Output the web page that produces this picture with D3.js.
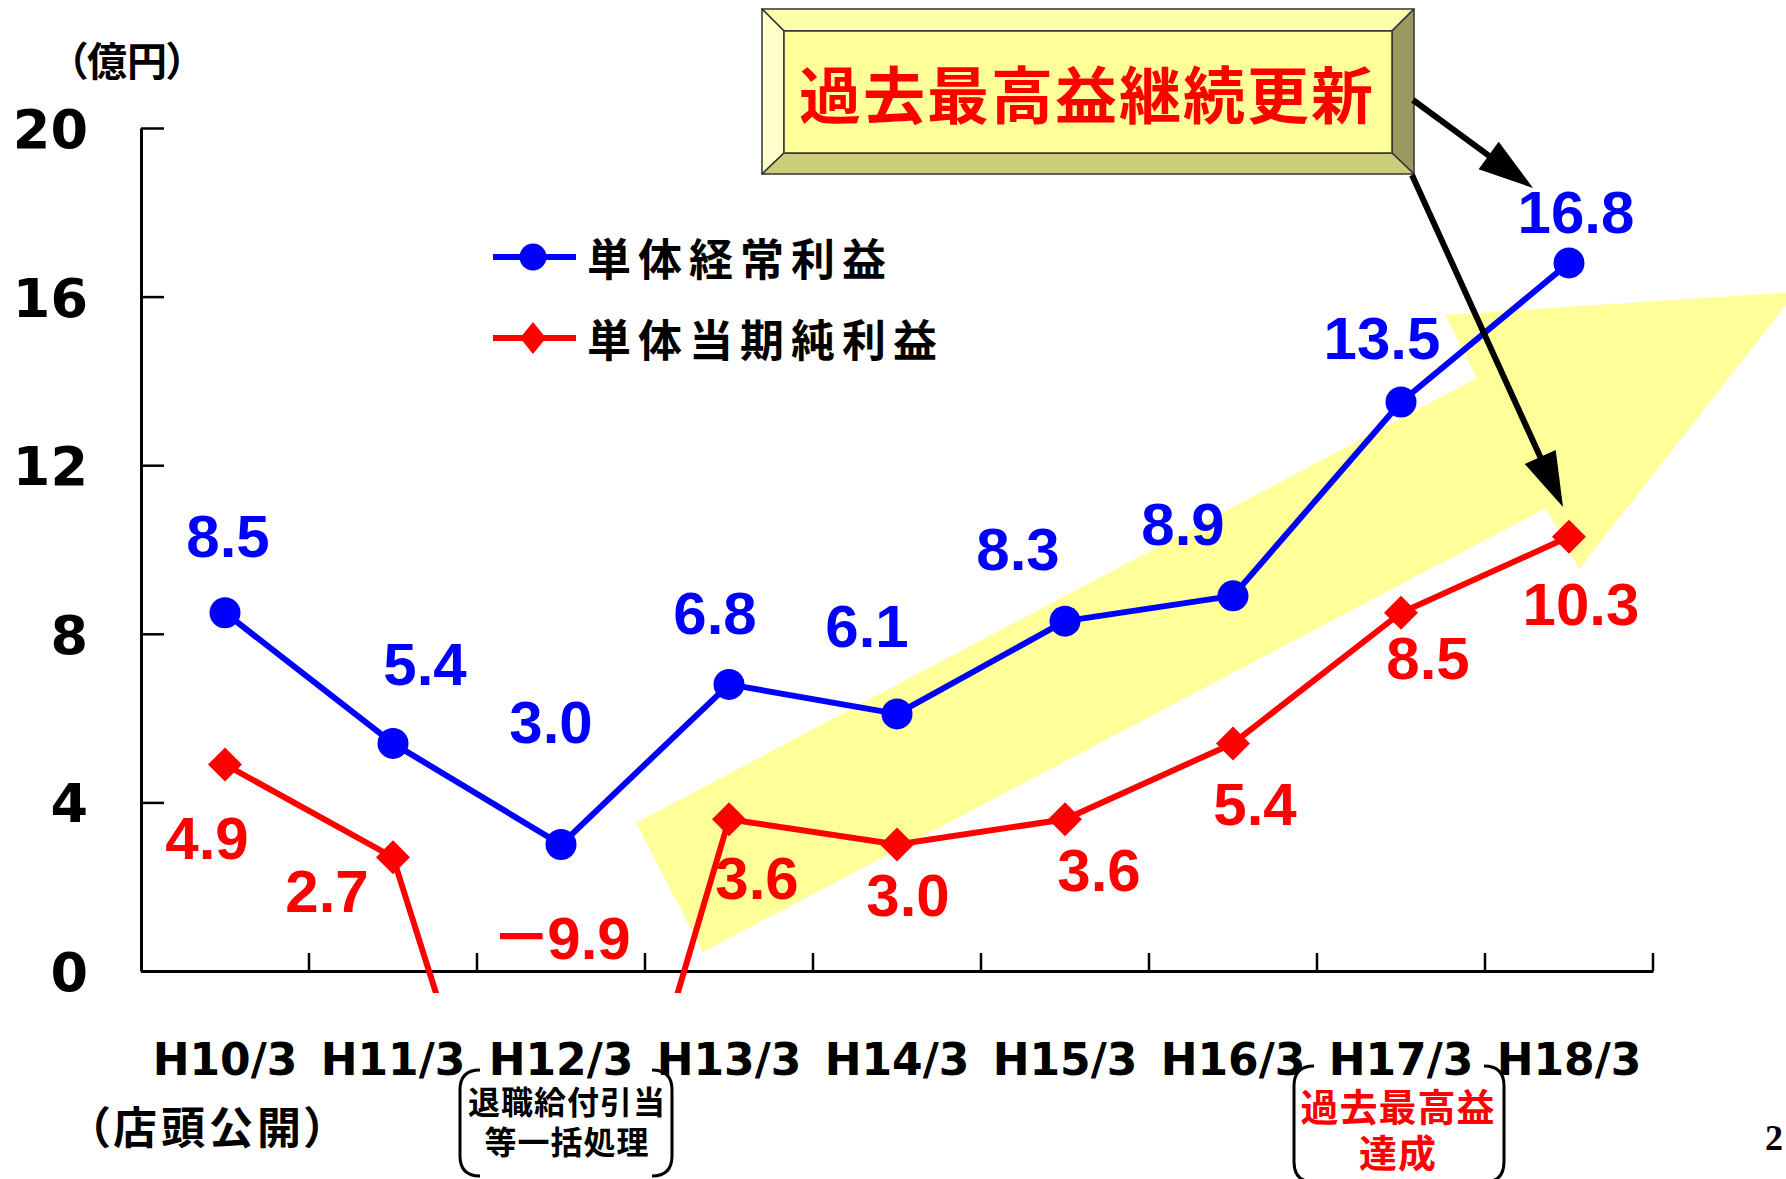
<!DOCTYPE html>
<html>
<head>
<meta charset="utf-8">
<script src="https://cdn.jsdelivr.net/npm/d3@7"></script>
<style>
  html, body { margin: 0; padding: 0; background: #ffffff; }
  svg { display: block; }
</style>
</head>
<body>
<svg id="chart" width="1786" height="1179"></svg>
<script>
// ---- data ----
const categories = ["H10/3", "H11/3", "H12/3", "H13/3", "H14/3", "H15/3", "H16/3", "H17/3", "H18/3"];
const ordinaryProfit = [8.5, 5.4, 3.0, 6.8, 6.1, 8.3, 8.9, 13.5, 16.8];   // 単体経常利益
const netProfit      = [4.9, 2.7, -9.9, 3.6, 3.0, 3.6, 5.4, 8.5, 10.3];   // 単体当期純利益
const yTicks = [0, 4, 8, 12, 16, 20];
const seriesNames = ["単体経常利益", "単体当期純利益"];
const unitText = "（億円）";
const headline = "過去最高益継続更新";
const listingNote = "（店頭公開）";
const retirementNote = ["退職給付引当", "等一括処理"];
const recordNote = ["過去最高益", "達成"];
const pageNo = "2";

// ---- layout ----
const W = 1786, H = 1179;
const plot = { left: 141, right: 1653, top: 128, bottom: 971 };
const BLUE = "#0000ff", RED = "#ff0000";
const JP = "'Noto Sans CJK JP', 'Noto Sans', sans-serif";
const NUM = "'Liberation Sans', Arial, sans-serif";
const AXISFONT = "'DejaVu Sans', Verdana, sans-serif";

const svg = d3.select("#chart");

const x = d3.scaleBand().domain(categories).range([plot.left, plot.right]).padding(0);
const y = d3.scaleLinear().domain([0, 20]).range([plot.bottom, plot.top]);
const cx = c => x(c) + x.bandwidth() / 2;

// ---- background arrow (rising trend) ----
svg.append("polygon")
  .attr("points", [[636, 823], [1477, 378], [1445, 315], [1796, 292], [1579, 569], [1546, 508], [703, 952]]
    .map(p => p.join(",")).join(" "))
  .attr("fill", "#ffff99");

// ---- y axis ----
const yAxis = svg.append("g")
  .attr("transform", `translate(${plot.left},0)`)
  .call(d3.axisLeft(y).tickValues(yTicks).tickSize(-23).tickSizeOuter(0).tickPadding(53).tickFormat(d3.format("d")));
yAxis.select(".domain").attr("stroke", "#000").attr("stroke-width", 3);
yAxis.selectAll(".tick line").attr("stroke", "#000").attr("stroke-width", 2.5);
yAxis.selectAll(".tick text")
  .attr("font-family", AXISFONT).attr("font-weight", "bold").attr("font-size", 54)
  .attr("fill", "#000").attr("dy", "0.36em");

// ---- x axis: baseline, boundary ticks, category labels ----
const xAxis = svg.append("g")
  .attr("transform", `translate(0,${plot.bottom})`)
  .call(d3.axisBottom(x).tickSize(0).tickPadding(88).tickSizeOuter(0));
xAxis.select(".domain").attr("stroke", "#000").attr("stroke-width", 3);
xAxis.selectAll(".tick text")
  .attr("font-family", AXISFONT).attr("font-weight", "bold").attr("font-size", 44)
  .attr("fill", "#000").attr("dy", "0.36em");

const bounds = categories.map(c => x(c)).concat([x(categories[categories.length - 1]) + x.bandwidth()]);
svg.append("g").selectAll("line")
  .data(bounds.slice(1))
  .join("line")
  .attr("x1", d => d).attr("x2", d => d)
  .attr("y1", plot.bottom).attr("y2", plot.bottom - 18)
  .attr("stroke", "#000").attr("stroke-width", 2.5);

// ---- unit label ----
svg.append("text")
  .attr("x", 127).attr("y", 62).attr("dy", "0.36em")
  .attr("text-anchor", "middle")
  .attr("font-family", JP).attr("font-weight", "bold").attr("font-size", 40)
  .style("font-feature-settings", "'palt'")
  .text(unitText);

// ---- lines ----
svg.append("defs").append("clipPath").attr("id", "plotClip")
  .append("rect").attr("x", 0).attr("y", 0).attr("width", W).attr("height", 993);

const line = d3.line().x((d, i) => cx(categories[i])).y(d => y(d));

svg.append("path").datum(netProfit)
  .attr("d", line).attr("fill", "none")
  .attr("stroke", RED).attr("stroke-width", 6).attr("stroke-linejoin", "miter")
  .attr("clip-path", "url(#plotClip)");

svg.append("path").datum(ordinaryProfit)
  .attr("d", line).attr("fill", "none")
  .attr("stroke", BLUE).attr("stroke-width", 6).attr("stroke-linejoin", "round");

// markers
svg.append("g").selectAll("path")
  .data(netProfit.map((v, i) => ({ v, c: categories[i] })).filter(d => d.v >= 0))
  .join("path")
  .attr("d", "M0,-17L17,0L0,17L-17,0Z")
  .attr("transform", d => `translate(${cx(d.c)},${y(d.v)})`)
  .attr("fill", RED);

svg.append("g").selectAll("circle")
  .data(ordinaryProfit.map((v, i) => ({ v, c: categories[i] })))
  .join("circle")
  .attr("cx", d => cx(d.c)).attr("cy", d => y(d.v)).attr("r", 15.5)
  .attr("fill", BLUE);

// ---- value labels ----
const fmt = v => d3.format(".1f")(Math.abs(v));
const blueOffsets = [[3, -77], [32, -80], [-10, -123], [-14, -72], [-30, -88], [-47, -73], [-50, -72], [-19, -65], [7, -51]];
const redOffsets  = [[-18, 73], [-66, 33], [0, 0], [28, 58], [11, 50], [34, 50], [22, 60], [27, 45], [12, 67]];
const LBL = 60;

svg.append("g").selectAll("text")
  .data(ordinaryProfit.map((v, i) => ({ v, c: categories[i], o: blueOffsets[i] })))
  .join("text")
  .attr("x", d => cx(d.c) + d.o[0])
  .attr("y", d => y(d.v) + d.o[1] + LBL * 0.36)
  .attr("text-anchor", "middle")
  .attr("font-family", NUM).attr("font-weight", "bold").attr("font-size", LBL)
  .attr("fill", BLUE)
  .text(d => fmt(d.v));

const redLabels = svg.append("g").selectAll("text")
  .data(netProfit.map((v, i) => ({ v, c: categories[i], o: redOffsets[i] })))
  .join("text")
  .attr("x", d => cx(d.c) + d.o[0])
  .attr("y", d => (d.v < 0 ? y(0) - 34 : y(d.v) + d.o[1]) + LBL * 0.36)
  .attr("text-anchor", "middle")
  .attr("font-family", NUM).attr("font-weight", "bold").attr("font-size", LBL)
  .attr("fill", RED);
redLabels.filter(d => d.v < 0).append("tspan")
  .attr("font-family", JP).attr("font-weight", "bold").attr("letter-spacing", -4)
  .text("－");
redLabels.append("tspan").text(d => fmt(d.v));

// ---- legend ----
const legend = svg.append("g");
const legendRows = [
  { name: seriesNames[0], color: BLUE, y: 257, shape: "circle" },
  { name: seriesNames[1], color: RED, y: 338, shape: "diamond" }
];
legendRows.forEach(r => {
  legend.append("line").attr("x1", 493).attr("x2", 576).attr("y1", r.y).attr("y2", r.y)
    .attr("stroke", r.color).attr("stroke-width", 6);
  if (r.shape === "circle") {
    legend.append("circle").attr("cx", 533).attr("cy", r.y).attr("r", 13.5).attr("fill", r.color);
  } else {
    legend.append("path").attr("d", "M0,-16L13,0L0,16L-13,0Z")
      .attr("transform", `translate(533,${r.y})`).attr("fill", r.color);
  }
  legend.append("text").attr("x", 587).attr("y", r.y + 3).attr("dy", "0.36em")
    .attr("font-family", JP).attr("font-weight", "bold").attr("font-size", 44)
    .attr("letter-spacing", 7).attr("fill", "#000")
    .text(r.name);
});

// ---- headline box (bevelled) ----
const ob = { l: 762, t: 9, r: 1414, b: 174 }, ib = { l: 784, t: 31, r: 1392, b: 153 };
const box = svg.append("g").attr("stroke", "#333").attr("stroke-width", 1.5).attr("stroke-linejoin", "round");
const poly = pts => pts.map(p => p.join(",")).join(" ");
box.append("polygon").attr("points", poly([[ob.l, ob.t], [ob.r, ob.t], [ib.r, ib.t], [ib.l, ib.t]])).attr("fill", "#ffffaa");
box.append("polygon").attr("points", poly([[ob.l, ob.t], [ib.l, ib.t], [ib.l, ib.b], [ob.l, ob.b]])).attr("fill", "#ffffcc");
box.append("polygon").attr("points", poly([[ob.r, ob.t], [ob.r, ob.b], [ib.r, ib.b], [ib.r, ib.t]])).attr("fill", "#999960");
box.append("polygon").attr("points", poly([[ob.l, ob.b], [ib.l, ib.b], [ib.r, ib.b], [ob.r, ob.b]])).attr("fill", "#cccc7a");
box.append("rect").attr("x", ib.l).attr("y", ib.t).attr("width", ib.r - ib.l).attr("height", ib.b - ib.t).attr("fill", "#ffff99");
svg.append("text").attr("x", 1087).attr("y", 97).attr("dy", "0.36em")
  .attr("text-anchor", "middle")
  .attr("font-family", JP).attr("font-weight", "bold").attr("font-size", 62)
  .attr("letter-spacing", 2).attr("fill", RED)
  .text(headline);

// ---- pointer arrows ----
function arrow(x1, y1, x2, y2) {
  const ang = Math.atan2(y2 - y1, x2 - x1), len = 55, half = 17;
  const bx = x2 - len * Math.cos(ang), by = y2 - len * Math.sin(ang);
  svg.append("line").attr("x1", x1).attr("y1", y1).attr("x2", bx + 4 * Math.cos(ang)).attr("y2", by + 4 * Math.sin(ang))
    .attr("stroke", "#000").attr("stroke-width", 6);
  const px = -Math.sin(ang) * half, py = Math.cos(ang) * half;
  svg.append("polygon").attr("points", poly([[x2, y2], [bx + px, by + py], [bx - px, by - py]])).attr("fill", "#000");
}
arrow(1413, 100, 1533, 188);
arrow(1412, 175, 1563, 507);

// ---- notes under the axis ----
svg.append("text").attr("x", 209).attr("y", 1128).attr("dy", "0.36em")
  .attr("text-anchor", "middle")
  .attr("font-family", JP).attr("font-weight", "bold").attr("font-size", 44)
  .style("font-feature-settings", "'palt'").attr("letter-spacing", 4)
  .text(listingNote);

function bracketBox(l, r, t, b, rad) {
  const p = `M${l + rad},${t} Q${l},${t} ${l},${t + rad} L${l},${b - rad} Q${l},${b} ${l + rad},${b}` +
            ` M${r - rad},${t} Q${r},${t} ${r},${t + rad} L${r},${b - rad} Q${r},${b} ${r - rad},${b}`;
  svg.append("path").attr("d", p).attr("fill", "none").attr("stroke", "#000").attr("stroke-width", 3);
}
bracketBox(460, 672, 1070, 1176, 20);
bracketBox(1294, 1504, 1066, 1182, 20);

retirementNote.forEach((t, i) => {
  svg.append("text").attr("x", 567).attr("y", [1102, 1142][i]).attr("dy", "0.36em")
    .attr("text-anchor", "middle")
    .attr("font-family", JP).attr("font-weight", "bold").attr("font-size", 32)
    .attr("letter-spacing", 1).attr("fill", "#000")
    .text(t);
});
recordNote.forEach((t, i) => {
  svg.append("text").attr("x", 1398).attr("y", [1107, 1153][i]).attr("dy", "0.36em")
    .attr("text-anchor", "middle")
    .attr("font-family", JP).attr("font-weight", "bold").attr("font-size", 38)
    .attr("letter-spacing", 1).attr("fill", RED)
    .text(t);
});

svg.append("text").attr("x", 1765).attr("y", 1150)
  .attr("font-family", "'Liberation Serif', serif").attr("font-weight", "bold").attr("font-size", 36)
  .attr("fill", "#000")
  .text(pageNo);
</script>
</body>
</html>
